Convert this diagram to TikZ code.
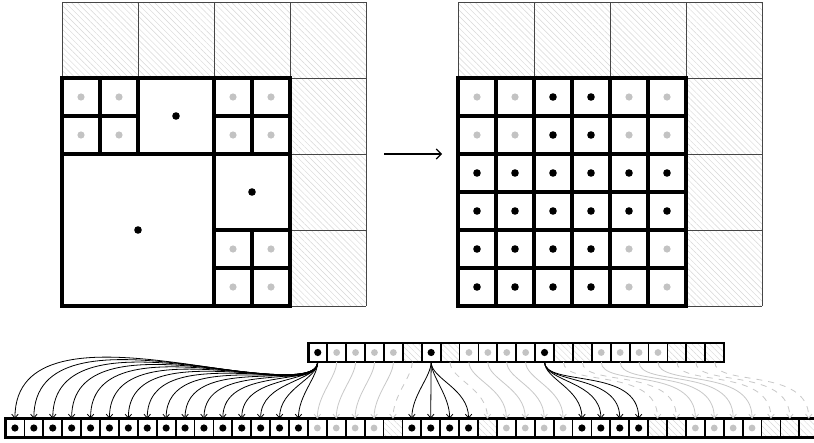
\documentclass[tikz,border=0pt]{standalone}
\usetikzlibrary{arrows.meta,patterns.meta}
\definecolor{hatchc}{RGB}{215,215,215}
\definecolor{lightdot}{RGB}{195,195,195}
\definecolor{gridc}{RGB}{70,70,70}
\definecolor{arrgray}{RGB}{200,200,200}
\tikzset{
  hatchfill/.style={pattern={Lines[angle=-45,distance=4.2pt,line width=0.45pt]}, pattern color=hatchc},
  coarse/.style={draw=gridc, line width=0.9pt},
  leaf/.style={draw=black, line width=3.4pt},
  frame/.style={draw=black, line width=4pt},
  cell/.style={draw=black, line width=1.8pt, minimum size=18.9pt, inner sep=0pt, outer sep=0pt, fill=white},
  cellB/.style={cell, path picture={\fill[black] (path picture bounding box.center) circle[radius=3.6pt];}},
  cellG/.style={cell, path picture={\fill[lightdot] (path picture bounding box.center) circle[radius=3.4pt];}},
  cellH/.style={cell, hatchfill},
  tipstyle/.style={-{Straight Barb[length=3.8pt,width=6.5pt]}},
  blk/.style={draw=black, line width=0.8pt, tipstyle},
  gry/.style={draw=arrgray, line width=0.8pt, tipstyle},
  dsh/.style={gry, dash pattern=on 6pt off 6pt},
}
\newcommand\linkcells[3]{%
  \pgfmathsetmacro\ldx{abs(18.9*#2+5.5-18.9*#1-308.3)}%
  \pgfmathsetmacro\la{12+0.14*\ldx}%
  \pgfmathsetmacro\lb{16+0.38*\ldx}%
  \draw[#3] (t#1.south) .. controls +(0,\la) and +(0,-\lb) .. (b#2.north);%
}
\begin{document}
\begin{tikzpicture}[x=1pt,y=-1pt]
\useasboundingbox (0,0) rectangle (814,442);
\clip (0,0) rectangle (814,442);
\fill[white] (0,0) rectangle (814,442);

% ---------------- left grid ----------------
\fill[hatchfill] (62,2) rectangle (366,306);
\foreach \k in {0,...,4} {
  \draw[coarse] ({62+76*\k},2) -- ({62+76*\k},306);
  \draw[coarse] (62,{2+76*\k}) -- (366,{2+76*\k});
}
\fill[white] (62,78) rectangle (290,306);
\foreach \x/\y in {62/78,100/78,62/116,100/116,214/78,252/78,214/116,252/116,214/230,252/230,214/268,252/268} {
  \draw[leaf] (\x,\y) rectangle +(38,38);
  \fill[lightdot] ({\x+19},{\y+19}) circle[radius=3.6pt];
}
\foreach \x/\y/\s in {138/78/76,62/154/152,214/154/76} {
  \draw[leaf] (\x,\y) rectangle +(\s,\s);
  \fill[black] ({\x+\s/2},{\y+\s/2}) circle[radius=3.8pt];
}
\draw[frame] (62,78) rectangle (290,306);

% ---------------- arrow ----------------
\coordinate (arrS) at (384,154);
\coordinate (arrE) at (442,154);
\draw[line width=1.1pt, -{Straight Barb[length=5pt,width=10pt]}] (arrS) -- (arrE);

% ---------------- right grid ----------------
\fill[hatchfill] (458,2) rectangle (762,306);
\foreach \k in {0,...,4} {
  \draw[coarse] ({458+76*\k},2) -- ({458+76*\k},306);
  \draw[coarse] (458,{2+76*\k}) -- (762,{2+76*\k});
}
\fill[white] (458,78) rectangle (686,306);
\foreach \row/\types in {0/{G,G,B,B,G,G},1/{G,G,B,B,G,G},2/{B,B,B,B,B,B},3/{B,B,B,B,B,B},4/{B,B,B,B,G,G},5/{B,B,B,B,G,G}} {
  \foreach \ty [count=\c from 0] in \types {
    \draw[leaf] ({458+38*\c},{78+38*\row}) rectangle +(38,38);
    \if\ty B
      \fill[black] ({458+38*\c+19},{78+38*\row+19}) circle[radius=3.8pt];
    \else
      \fill[lightdot] ({458+38*\c+19},{78+38*\row+19}) circle[radius=3.6pt];
    \fi
  }
}
\draw[frame] (458,78) rectangle (686,306);

% ---------------- top array ----------------
\foreach \ty [count=\i from 0] in {B,G,G,G,G,H,B,H,G,G,G,G,B,H,H,G,G,G,G,H,H,H} {
  \node[cell\ty] (t\i) at ({308.3+9.45+18.9*\i},352.5) {};
}
\draw[line width=2.6pt] (t0.north west) rectangle (t21.south east);

% ---------------- bottom array ----------------
\foreach \ty [count=\j from 0] in {B,B,B,B,B,B,B,B,B,B,B,B,B,B,B,B,G,G,G,G,H,B,B,B,B,H,G,G,G,G,B,B,B,B,H,H,G,G,G,G,H,H,H} {
  \node[cell\ty] (b\j) at ({5.5+9.45+18.9*\j},428) {};
}
\draw[line width=2.6pt] (b0.north west) rectangle (b42.south east);

% ---------------- connectors ----------------
\foreach \s/\d in {1/16,2/17,3/18,4/19,8/26,9/27,10/28,11/29,15/36,16/37,17/38,18/39} {
  \linkcells{\s}{\d}{gry}
}
\foreach \s/\d in {5/20,7/25,13/34,14/35,19/40,20/41,21/42} {
  \linkcells{\s}{\d}{dsh}
}
\foreach \d in {0,...,15} { \linkcells{0}{\d}{blk} }
\foreach \d in {21,...,24} { \linkcells{6}{\d}{blk} }
\foreach \d in {30,...,33} { \linkcells{12}{\d}{blk} }
\end{tikzpicture}
\end{document}
